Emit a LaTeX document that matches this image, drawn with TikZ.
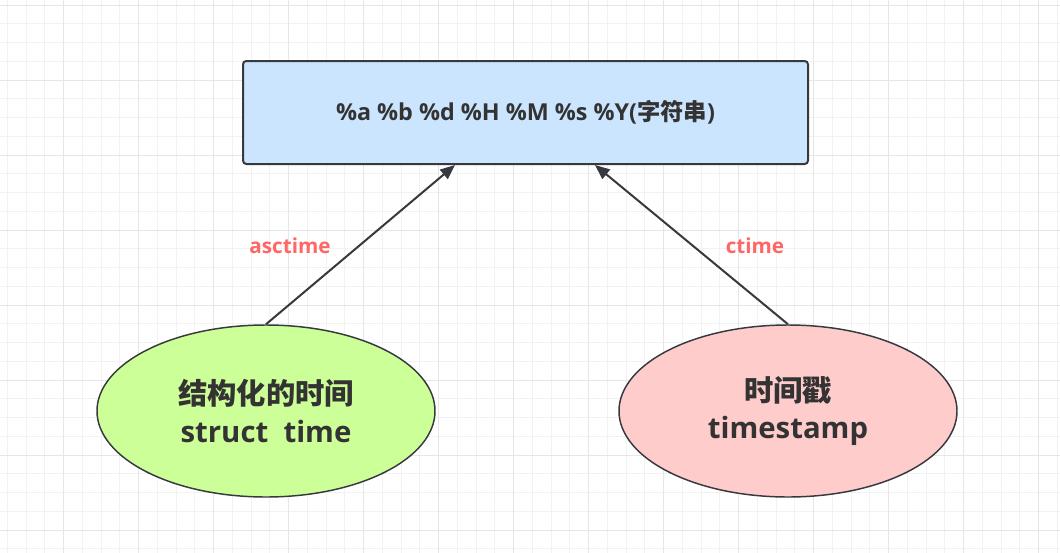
\documentclass[tikz,border=0pt]{standalone}
\usepackage{fontspec}
\setmainfont{Open Sans}
\newfontfamily\cjk{Noto Sans CJK SC}
\usetikzlibrary{shapes.geometric,arrows.meta}
\definecolor{ink}{HTML}{333333}
\definecolor{edge}{HTML}{36393D}
\definecolor{boxfill}{HTML}{CCE5FF}
\definecolor{greenfill}{HTML}{CDFF99}
\definecolor{pinkfill}{HTML}{FFCCCC}
\definecolor{lbl}{HTML}{FF6666}
\definecolor{gridminor}{HTML}{F2F2F2}
\definecolor{gridmajor}{HTML}{E6E6E6}
\begin{document}
\begin{tikzpicture}[x=0.75pt,y=-0.75pt,
  minorline/.style={gridminor,line width=0.75pt},
  majorline/.style={gridmajor,line width=0.75pt},
  strbox/.style={draw=edge,line width=1.5pt,fill=boxfill,rounded corners=2.5pt,
    minimum width=423.75pt,minimum height=77.25pt,inner sep=0pt,
    text=ink,font=\fontsize{17.5}{20}\selectfont\bfseries},
  ell/.style={ellipse,draw=edge,line width=1.1pt,minimum width=253.5pt,minimum height=129pt,
    inner sep=0pt,align=center,text=ink,font=\fontsize{22}{28}\selectfont\bfseries},
  arr/.style={draw=edge,line width=1.5pt,-{Triangle[length=11pt,width=9pt]}},
  lab/.style={text=lbl,font=\fontsize{15.5}{18}\selectfont\bfseries}]
\useasboundingbox (0,0) rectangle (1060,553);
\fill[white] (0,0) rectangle (1060,553);
% grid
\foreach \i in {0,...,56} {\draw[minorline] ({7.3+18.75*\i},0) -- ({7.3+18.75*\i},553);}
\foreach \i in {0,...,29} {\draw[minorline] (0,{5+18.75*\i}) -- (1060,{5+18.75*\i});}
\foreach \i in {0,...,14} {\draw[majorline] ({-11.7+75*\i},0) -- ({-11.7+75*\i},553);}
\foreach \i in {0,...,7} {\draw[majorline] (0,{5+75*\i}) -- (1060,{5+75*\i});}
% nodes
\node[strbox] (box) at (525.5,112.5) {\%a \%b \%d \%H \%M \%s \%Y({\cjk 字符串})};
\node[ell,fill=greenfill] (st) at (266,411) {{\cjk 结构化的时间}\\struct\ \ time};
\node[ell,fill=pinkfill] (ts) at (788,411) {{\cjk 时间戳}\\timestamp};
\coordinate (la) at (455,0);
\coordinate (ra) at (595,0);
\draw[arr] (st.north) -- (box.south -| la);
\draw[arr] (ts.north) -- (box.south -| ra);
\node[lab] (l1) at (290,246) {asctime};
\node[lab] (l2) at (755,246) {ctime};
\end{tikzpicture}
\end{document}
